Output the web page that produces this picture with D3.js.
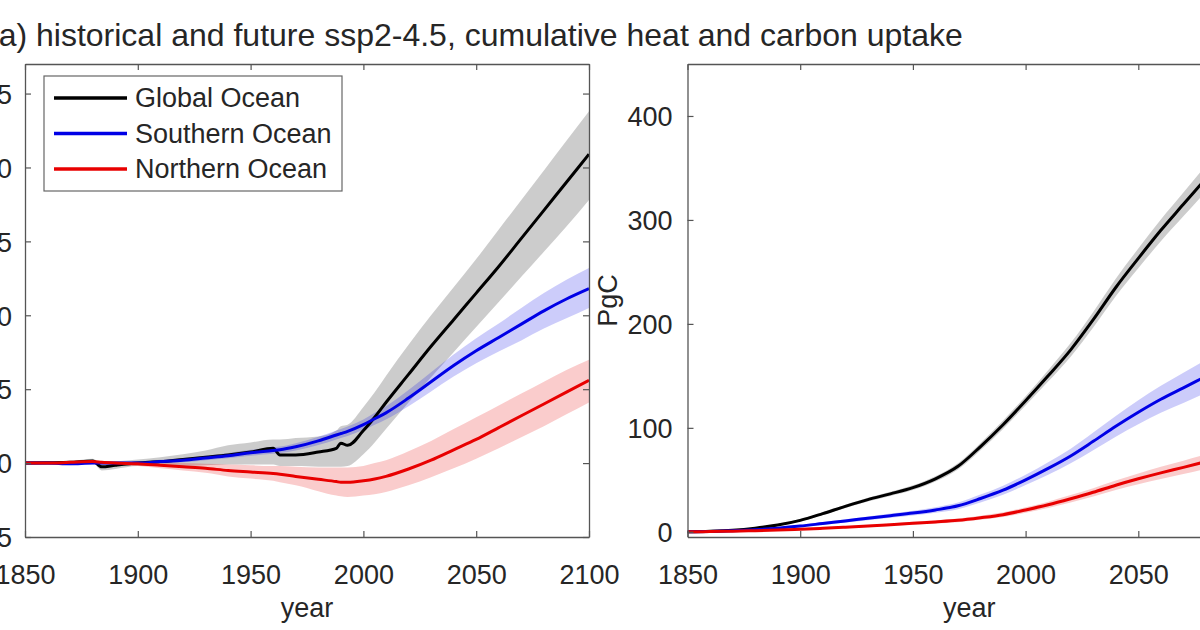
<!DOCTYPE html>
<html><head><meta charset="utf-8">
<script src="https://cdn.jsdelivr.net/npm/d3@7"></script>
<style>
body{margin:0;background:#fff}
svg{display:block}
text{font-family:"Liberation Sans",Arial,Helvetica,sans-serif;fill:#262626}
</style>
</head><body>
<svg id="chart" width="1200" height="630"></svg>
<script>
// ---------- Data ----------
const titleText = "(a) historical and future ssp2-4.5, cumulative heat and carbon uptake";
const seriesNames = ["Global Ocean", "Southern Ocean", "Northern Ocean"];
const seriesColors = ["#000000", "#0000e6", "#e80000"];
const xTicks = [1850, 1900, 1950, 2000, 2050, 2100];

// Left panel: cumulative heat uptake
const heatYears = [1850,1860,1870,1880,1884,1890,1900,1910,1920,1930,1940,1950,1960,1963,1970,1980,1988,1990,1993,2000,2005,2010,2020,2030,2040,2050,2060,2070,2080,2090,2100];
const heatGlobal   = [0,0.02,0.05,0.15,-0.25,-0.15,0.0,0.1,0.25,0.4,0.55,0.75,1.0,0.55,0.55,0.75,1.0,1.35,1.2,2.2,3.1,4.1,6.0,7.9,9.7,11.5,13.3,15.2,17.1,19.0,20.9];
const heatGlobalHi = [0.1,0.12,0.15,0.3,0.0,0.1,0.25,0.4,0.6,0.85,1.2,1.4,1.6,1.6,1.7,1.8,2.2,2.5,2.6,3.8,4.8,5.9,8.0,10.0,11.9,13.8,15.8,17.8,19.8,21.8,23.8];
const heatGlobalLo = [-0.1,-0.1,-0.05,0.0,-0.5,-0.4,-0.2,-0.2,-0.2,-0.15,-0.1,-0.1,-0.1,-0.2,-0.2,-0.25,-0.25,-0.25,-0.2,0.6,1.4,2.3,4.1,5.8,7.5,9.2,10.9,12.6,14.3,16.0,17.8];
const heatSouthern   = [0,0,-0.05,0,0,0,0.0,0.1,0.2,0.35,0.5,0.7,0.85,0.9,1.1,1.5,1.9,2.0,2.15,2.6,3.0,3.4,4.4,5.5,6.6,7.6,8.5,9.4,10.3,11.1,11.8];
const heatSouthernHi = [0.1,0.1,0.05,0.1,0.1,0.1,0.12,0.22,0.35,0.5,0.68,0.9,1.07,1.12,1.35,1.78,2.2,2.3,2.47,2.95,3.4,3.85,4.95,6.15,7.35,8.45,9.45,10.5,11.5,12.4,13.2];
const heatSouthernLo = [-0.1,-0.1,-0.15,-0.1,-0.1,-0.1,-0.12,-0.02,0.05,0.2,0.32,0.5,0.63,0.68,0.85,1.22,1.6,1.7,1.83,2.25,2.6,2.95,3.85,4.85,5.85,6.75,7.55,8.3,9.1,9.8,10.5];
const heatNorthern   = [0,0,0.05,0.1,0.05,0,-0.05,-0.15,-0.25,-0.35,-0.5,-0.6,-0.7,-0.75,-0.9,-1.1,-1.25,-1.3,-1.3,-1.2,-1.08,-0.9,-0.4,0.2,0.9,1.6,2.4,3.2,4.0,4.8,5.6];
const heatNorthernHi = [0.1,0.1,0.15,0.2,0.15,0.1,0.1,0.05,0.0,-0.05,-0.1,-0.15,-0.2,-0.2,-0.25,-0.3,-0.3,-0.3,-0.3,-0.2,0.0,0.2,0.8,1.5,2.3,3.1,3.9,4.7,5.5,6.3,7.0];
const heatNorthernLo = [-0.1,-0.1,-0.05,0.0,-0.05,-0.1,-0.2,-0.35,-0.5,-0.65,-0.9,-1.05,-1.2,-1.3,-1.5,-1.9,-2.2,-2.25,-2.3,-2.2,-2.1,-1.95,-1.5,-0.95,-0.35,0.3,1.0,1.75,2.5,3.3,4.1];
const heatYDomain = [-5, 27];
const heatYTicks = [-5, 0, 5, 10, 15, 20, 25];

// Right panel: cumulative carbon uptake (PgC)
const carbonYears = [1850,1860,1870,1880,1890,1900,1910,1920,1930,1940,1950,1960,1970,1980,1990,2000,2010,2020,2030,2040,2050,2060,2070,2080];
const carbonGlobal   = [0,0.5,1.5,3.5,6.5,11,17.5,24.5,31,36.5,42.5,51,63,82,103,126,150,175,204,235,263,290,315,340];
const carbonGlobalSpread = [0.5,0.5,0.6,0.8,1,1.2,1.4,1.6,1.8,2,2.2,2.5,3,3.5,4,4.5,5.5,6.5,7.5,8.5,9.5,10.5,11.5,12.5];
const carbonSouthern = [0,0.3,1,2,3.5,5.5,8,10.5,13,15.5,18,21,25,32,40,50,61,73,87,101.5,115,127.5,138.5,149.5];
const carbonSouthernSpread = [0.5,0.5,0.6,0.8,1,1.2,1.4,1.6,1.8,2,2.3,2.7,3.2,3.8,4.4,5,6,7,8.5,10,11.5,13,14.5,16];
const carbonNorthern = [0,0.2,0.6,1.1,1.7,2.5,3.4,4.4,5.5,6.8,8.2,9.5,11,13.5,16.5,21,26,31.8,38,44.8,51,56.7,62,67.5];
const carbonNorthernSpread = [0.5,0.5,0.5,0.6,0.7,0.8,0.9,1,1.1,1.2,1.4,1.6,1.8,2,2.3,2.6,3,3.5,4,4.6,5.2,5.8,6.4,7];
const carbonYDomain = [-5, 450];
const carbonYTicks = [0, 100, 200, 300, 400];
const carbonYLabel = "PgC";
const xLabel = "year";

// ---------- Drawing ----------
const svg = d3.select("#chart");
const FONT = 27;
const AXIS_COLOR = "#555";

function drawPanel(cfg) {
  const x = d3.scaleLinear().domain([1850, 2100]).range([cfg.left, cfg.right]);
  const y = d3.scaleLinear().domain(cfg.yDomain).range([cfg.bottom, cfg.top]);
  const g = svg.append("g");
  const clipId = "clip" + cfg.id;
  svg.append("clipPath").attr("id", clipId).append("rect")
    .attr("x", cfg.left).attr("y", cfg.top)
    .attr("width", cfg.right - cfg.left).attr("height", cfg.bottom - cfg.top);

  const plot = g.append("g").attr("clip-path", `url(#${clipId})`);
  // bands
  cfg.series.forEach(s => {
    const pts = cfg.years.map((yr, i) => ({yr, lo: s.lo[i], hi: s.hi[i]}));
    plot.append("path")
      .attr("d", d3.area().x(d => x(d.yr)).y0(d => y(d.lo)).y1(d => y(d.hi)).curve(d3.curveMonotoneX)(pts))
      .attr("fill", s.color).attr("fill-opacity", 0.2).attr("stroke", "none");
  });
  // lines
  cfg.series.forEach(s => {
    const pts = cfg.years.map((yr, i) => ({yr, v: s.mean[i]}));
    plot.append("path")
      .attr("d", d3.line().x(d => x(d.yr)).y(d => y(d.v)).curve(d3.curveMonotoneX)(pts))
      .attr("fill", "none").attr("stroke", s.color).attr("stroke-width", 3)
      .attr("stroke-linejoin", "round");
  });

  // axes
  const bottomAxis = d3.axisBottom(x).tickValues(xTicks).tickFormat(d3.format("d")).tickSize(-6).tickSizeOuter(0);
  const ga = g.append("g").attr("transform", `translate(0,${cfg.bottom})`).call(bottomAxis);
  ga.selectAll("text").attr("y", 47).attr("dy", 0).style("font-size", FONT + "px").attr("fill", "#262626");
  const topAxis = d3.axisTop(x).tickValues(xTicks).tickFormat("").tickSize(-6).tickSizeOuter(0);
  g.append("g").attr("transform", `translate(0,${cfg.top})`).call(topAxis);
  const leftAxis = d3.axisLeft(y).tickValues(cfg.yTicks).tickSize(-6).tickSizeOuter(0).tickPadding(cfg.labelPad);
  const gl = g.append("g").attr("transform", `translate(${cfg.left},0)`).call(leftAxis);
  gl.selectAll("text").attr("dy", "0.36em").style("font-size", FONT + "px").attr("fill", "#262626");
  const rightAxis = d3.axisRight(y).tickValues(cfg.yTicks).tickFormat("").tickSize(-6).tickSizeOuter(0);
  g.append("g").attr("transform", `translate(${cfg.right},0)`).call(rightAxis);
  g.selectAll(".domain").attr("stroke", AXIS_COLOR).attr("stroke-width", 1.3);
  g.selectAll(".tick line").attr("stroke", AXIS_COLOR).attr("stroke-width", 1.2);
  g.selectAll(".tick text").attr("font-family", null);

  // x label
  g.append("text").attr("x", (cfg.left + cfg.right) / 2).attr("y", 617)
    .attr("text-anchor", "middle").style("font-size", FONT + "px").text(xLabel);
  if (cfg.yLabel) {
    g.append("text")
      .attr("transform", `translate(${cfg.yLabelX},${(cfg.top + cfg.bottom) / 2}) rotate(-90)`)
      .attr("text-anchor", "middle").style("font-size", FONT + "px").text(cfg.yLabel);
  }
  return {x, y, g};
}

const TOP = 64, BOTTOM = 537;

drawPanel({
  id: "heat", left: 25, right: 589, top: TOP, bottom: BOTTOM,
  yDomain: heatYDomain, yTicks: heatYTicks, labelPad: 13, years: heatYears,
  series: [
    {mean: heatGlobal, lo: heatGlobalLo, hi: heatGlobalHi, color: seriesColors[0]},
    {mean: heatSouthern, lo: heatSouthernLo, hi: heatSouthernHi, color: seriesColors[1]},
    {mean: heatNorthern, lo: heatNorthernLo, hi: heatNorthernHi, color: seriesColors[2]}
  ]
});

function withSpread(mean, spread, sign) { return mean.map((v, i) => v + sign * spread[i]); }
drawPanel({
  id: "carbon", left: 687.5, right: 1251, top: TOP, bottom: BOTTOM,
  yDomain: carbonYDomain, yTicks: carbonYTicks, labelPad: 15, years: carbonYears,
  yLabel: carbonYLabel, yLabelX: 617,
  series: [
    {mean: carbonGlobal, lo: withSpread(carbonGlobal, carbonGlobalSpread, -1), hi: withSpread(carbonGlobal, carbonGlobalSpread, 1), color: seriesColors[0]},
    {mean: carbonSouthern, lo: withSpread(carbonSouthern, carbonSouthernSpread, -1), hi: withSpread(carbonSouthern, carbonSouthernSpread, 1), color: seriesColors[1]},
    {mean: carbonNorthern, lo: withSpread(carbonNorthern, carbonNorthernSpread, -1), hi: withSpread(carbonNorthern, carbonNorthernSpread, 1), color: seriesColors[2]}
  ]
});

// legend
const lg = svg.append("g");
lg.append("rect").attr("x", 44).attr("y", 76).attr("width", 298).attr("height", 115)
  .attr("fill", "#fff").attr("stroke", "#666").attr("stroke-width", 1.2);
seriesNames.forEach((name, i) => {
  const ly = 98 + i * 35.5;
  lg.append("line").attr("x1", 54).attr("x2", 127).attr("y1", ly).attr("y2", ly)
    .attr("stroke", seriesColors[i]).attr("stroke-width", 3.5);
  lg.append("text").attr("x", 135).attr("y", ly).attr("dy", "0.35em")
    .style("font-size", FONT + "px").text(name);
});

// title
svg.append("text").attr("x", -12).attr("y", 46).style("font-size", "32px").text(titleText);
</script>
</body></html>
